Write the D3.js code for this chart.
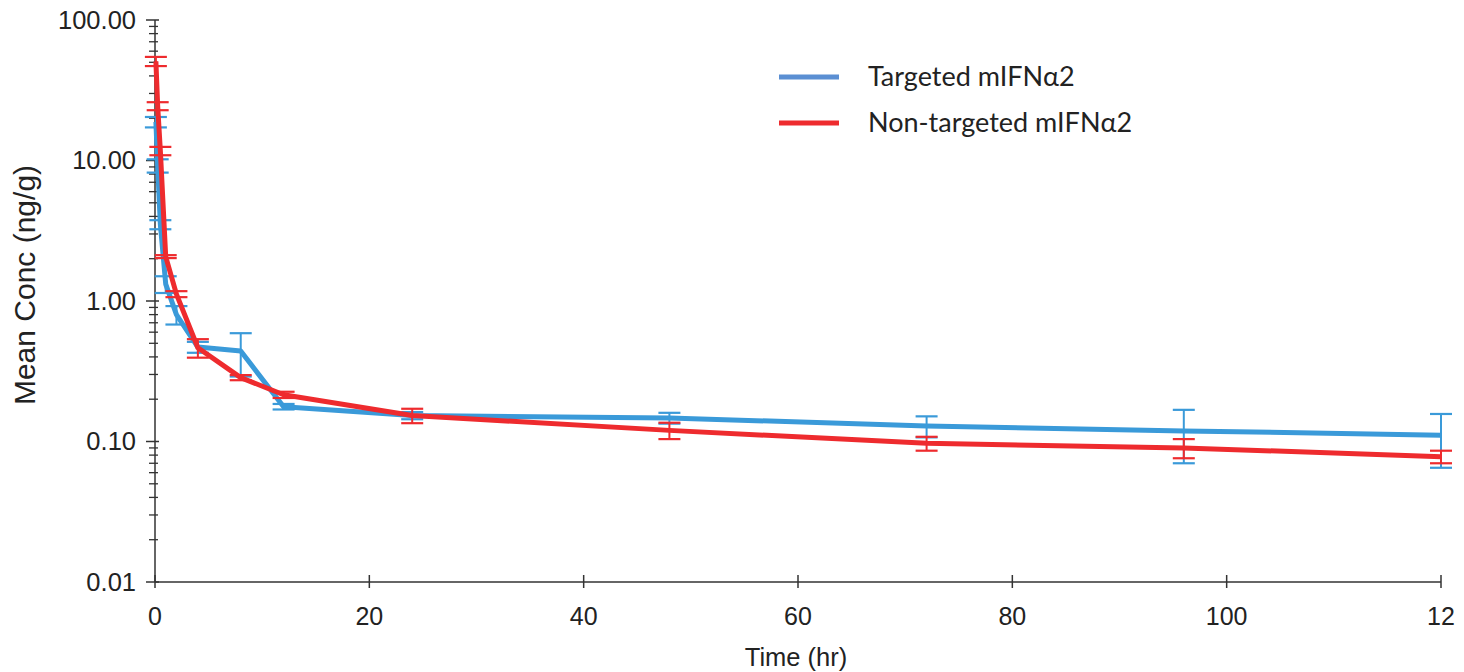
<!DOCTYPE html>
<html><head><meta charset="utf-8">
<script src="https://cdn.jsdelivr.net/npm/d3@7"></script>
<style>html,body{margin:0;padding:0;background:#fff;overflow:hidden}
.ax{font-family:"Liberation Sans",Arial,Helvetica,sans-serif;fill:#222}
.lg{font-family:Lato,"Open Sans",sans-serif;fill:#222}</style>
</head><body>
<svg id="chart" width="1464" height="672"></svg>
<script>
const times = [0.083, 0.25, 0.5, 1, 2, 4, 8, 12, 24, 48, 72, 96, 120];
const targetedMean = [18.8, 9.2, 3.5, 1.32, 0.80, 0.47, 0.44, 0.177, 0.153, 0.147, 0.129, 0.119, 0.111];
const targetedSD = [1.6, 1.0, 0.26, 0.18, 0.12, 0.042, 0.15, 0.008, 0.009, 0.013, 0.022, 0.049, 0.046];
const nonTargetedMean = [50.8, 24.4, 11.7, 2.07, 1.12, 0.465, 0.285, 0.215, 0.153, 0.12, 0.097, 0.09, 0.078];
const nonTargetedSD = [3.8, 1.6, 0.8, 0.05, 0.055, 0.07, 0.012, 0.011, 0.018, 0.016, 0.011, 0.014, 0.008];
const xTickValues = [0, 20, 40, 60, 80, 100, 120];
const xTickLabels = ["0", "20", "40", "60", "80", "100", "12"];
const yTickValues = [0.01, 0.1, 1, 10, 100];
const yTickLabels = ["0.01", "0.10", "1.00", "10.00", "100.00"];
const seriesNames = ["Targeted mIFNα2", "Non-targeted mIFNα2"];

const svg = d3.select("#chart");
const x = d3.scaleLinear().domain([0, 120]).range([155, 1441]);
const y = d3.scaleLog().domain([0.01, 100]).range([582, 20]);
const axisColor = "#333";
const lineColors = ["#3a9ad9", "#ee2b2e"];
const legendColors = ["#5b8fd3", "#ee2b2e"];

// y axis
const gy = svg.append("g");
gy.append("line").attr("x1", x(0)).attr("x2", x(0)).attr("y1", y(100)).attr("y2", y(0.01))
  .attr("stroke", axisColor).attr("stroke-width", 1.5);
const minor = [];
[0.01, 0.1, 1, 10].forEach(d => { for (let k = 2; k <= 9; k++) minor.push(d * k); });
gy.selectAll(".minor").data(minor).join("line")
  .attr("x1", x(0) - 6).attr("x2", x(0) + 3)
  .attr("y1", d => y(d)).attr("y2", d => y(d))
  .attr("stroke", axisColor).attr("stroke-width", 1.3);
gy.selectAll(".major").data(yTickValues).join("line")
  .attr("x1", x(0) - 9).attr("x2", x(0) + 4)
  .attr("y1", d => y(d)).attr("y2", d => y(d))
  .attr("stroke", axisColor).attr("stroke-width", 1.5);
gy.selectAll("text").data(yTickValues).join("text").attr("class", "ax")
  .attr("x", x(0) - 19).attr("y", d => y(d)).attr("dy", "0.35em")
  .attr("text-anchor", "end").attr("font-size", 25.5)
  .text((d, i) => yTickLabels[i]);

// x axis
const gx = svg.append("g");
gx.append("line").attr("x1", x(0)).attr("x2", x(120)).attr("y1", y(0.01)).attr("y2", y(0.01))
  .attr("stroke", axisColor).attr("stroke-width", 1.5);
gx.selectAll(".tick").data(xTickValues).join("line")
  .attr("x1", d => x(d)).attr("x2", d => x(d))
  .attr("y1", y(0.01) - 7).attr("y2", y(0.01) + 6)
  .attr("stroke", axisColor).attr("stroke-width", 1.5);
gx.selectAll("text").data(xTickValues).join("text").attr("class", "ax")
  .attr("x", d => x(d)).attr("y", 625)
  .attr("text-anchor", "middle").attr("font-size", 25)
  .text((d, i) => xTickLabels[i]);

// titles
svg.append("text").attr("class", "ax").attr("x", 796).attr("y", 666).attr("text-anchor", "middle")
  .attr("font-size", 25.5).text("Time (hr)");
svg.append("text").attr("class", "ax").attr("transform", "translate(35,285) rotate(-90)").attr("text-anchor", "middle")
  .attr("font-size", 30).text("Mean Conc (ng/g)");

// series
const series = [
  { mean: targetedMean, sd: targetedSD, color: lineColors[0] },
  { mean: nonTargetedMean, sd: nonTargetedSD, color: lineColors[1] }
];
const line = d3.line().x(d => x(d.t)).y(d => y(d.m));
series.forEach(s => {
  const pts = times.map((t, i) => ({ t, m: s.mean[i], sd: s.sd[i] }));
  const g = svg.append("g");
  g.selectAll(".eb").data(pts).join("line")
    .attr("x1", d => x(d.t)).attr("x2", d => x(d.t))
    .attr("y1", d => y(d.m + d.sd)).attr("y2", d => y(Math.max(d.m - d.sd, 0.011)))
    .attr("stroke", s.color).attr("stroke-width", 2);
  g.selectAll(".capT").data(pts).join("line")
    .attr("x1", d => x(d.t) - 11).attr("x2", d => x(d.t) + 11)
    .attr("y1", d => y(d.m + d.sd)).attr("y2", d => y(d.m + d.sd))
    .attr("stroke", s.color).attr("stroke-width", 2.2);
  g.selectAll(".capB").data(pts).join("line")
    .attr("x1", d => x(d.t) - 11).attr("x2", d => x(d.t) + 11)
    .attr("y1", d => y(d.m - d.sd)).attr("y2", d => y(d.m - d.sd))
    .attr("stroke", s.color).attr("stroke-width", 2.2);
  g.append("path").datum(pts).attr("d", line).attr("fill", "none")
    .attr("stroke", s.color).attr("stroke-width", 5).attr("stroke-linejoin", "round");
});

// legend
const lg = svg.append("g");
seriesNames.forEach((name, i) => {
  const ly = 77 + i * 46;
  lg.append("line").attr("x1", 779).attr("x2", 839).attr("y1", ly).attr("y2", ly)
    .attr("stroke", legendColors[i]).attr("stroke-width", 5);
  lg.append("text").attr("class", "lg").attr("x", 868).attr("y", ly).attr("dy", "0.35em")
    .attr("font-size", 27).text(name);
});
</script>
</body></html>
